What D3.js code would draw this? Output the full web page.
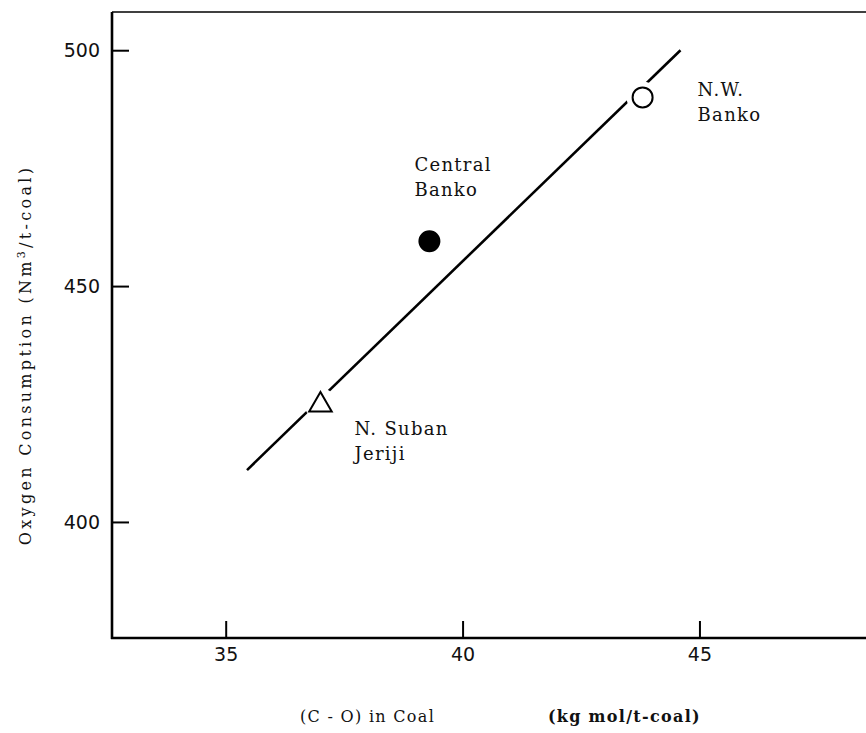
<!DOCTYPE html>
<html>
<head>
<meta charset="utf-8">
<script src="https://cdn.jsdelivr.net/npm/d3@7"></script>
<style>
  body { margin: 0; background: #fff; }
  svg { display: block; }
</style>
</head>
<body>
<script>
// coal samples
const sites      = ["N.W. Banko", "Central Banko", "N. Suban Jeriji"];
const labelLines = [["N.W.", "Banko"], ["Central", "Banko"], ["N. Suban", "Jeriji"]];
const coValues   = [43.8, 39.3, 37.0];     // (C - O) in coal, kg mol/t-coal
const o2Values   = [490, 459.5, 425];      // oxygen consumption, Nm3/t-coal
const markers    = ["open", "filled", "triangle"];

// fitted line end points
const fitX = [35.45, 44.6];
const fitY = [411, 500];

const xTicks = [35, 40, 45];
const yTicks = [400, 450, 500];

const width  = 866;
const height = 733;

const svg = d3.select("body")
    .append("svg")
    .attr("width", width)
    .attr("height", height);

const x = d3.scaleLinear().domain([32.6, 48.6]).range([112, 870]);
const y = d3.scaleLinear().domain([375.4, 508.1]).range([638, 12]);

const serif = "'DejaVu Serif', serif";
const sans  = "'DejaVu Sans', sans-serif";

// frame: left, bottom, top (right side runs off the page)
svg.append("line")
    .attr("x1", x.range()[0]).attr("x2", x.range()[0])
    .attr("y1", y.range()[1]).attr("y2", y.range()[0] + 1)
    .style("stroke", "#000").style("stroke-width", 2.6);
svg.append("line")
    .attr("x1", x.range()[0] - 1).attr("x2", width)
    .attr("y1", y.range()[0]).attr("y2", y.range()[0])
    .style("stroke", "#000").style("stroke-width", 2.6);
svg.append("line")
    .attr("x1", x.range()[0]).attr("x2", width)
    .attr("y1", y.range()[1]).attr("y2", y.range()[1])
    .style("stroke", "#000").style("stroke-width", 1.5);

// axes with inward ticks
const yAxis = svg.append("g")
    .attr("transform", `translate(${x.range()[0]},0)`)
    .call(d3.axisLeft(y).tickValues(yTicks).tickSizeInner(-17).tickSizeOuter(0).tickPadding(12));
const xAxis = svg.append("g")
    .attr("transform", `translate(0,${y.range()[0]})`)
    .call(d3.axisBottom(x).tickValues(xTicks).tickSizeInner(-17).tickSizeOuter(0).tickPadding(10));

[xAxis, yAxis].forEach(function(g) {
    g.select(".domain").remove();
    g.selectAll(".tick line").style("stroke", "#000").style("stroke-width", 2);
    g.selectAll(".tick text")
        .style("font-family", sans)
        .style("font-size", "19px")
        .style("fill", "#111");
});

// axis titles
const yTitle = svg.append("text")
    .attr("transform", "translate(31,355) rotate(-90)")
    .attr("text-anchor", "middle")
    .style("font-family", serif)
    .style("font-size", "16px")
    .style("letter-spacing", "3.3px")
    .style("fill", "#111");
yTitle.append("tspan").text("Oxygen Consumption (Nm");
yTitle.append("tspan").attr("dy", -6).style("font-size", "11px").text("3");
yTitle.append("tspan").attr("dy", 6).text("/t-coal)");

svg.append("text")
    .attr("x", 300).attr("y", 722)
    .style("font-family", serif)
    .style("font-size", "16px")
    .style("letter-spacing", "1.3px")
    .style("fill", "#111")
    .text("(C - O) in Coal");
svg.append("text")
    .attr("x", 548).attr("y", 722)
    .style("font-family", serif)
    .style("font-size", "16px")
    .style("letter-spacing", "1.3px")
    .style("font-weight", "bold")
    .style("fill", "#111")
    .text("(kg mol/t-coal)");

// fitted line
svg.append("line")
    .attr("x1", x(fitX[0])).attr("y1", y(fitY[0]))
    .attr("x2", x(fitX[1])).attr("y2", y(fitY[1]))
    .style("stroke", "#000")
    .style("stroke-width", 2.6);

const pts = sites.map(function(s, i) {
    return {name: s, lines: labelLines[i], cx: x(coValues[i]), cy: y(o2Values[i]), marker: markers[i]};
});

// white halo breaks the line around the open markers
svg.selectAll("circle.halo")
    .data(pts.filter(function(d) { return d.marker !== "filled"; }))
    .enter().append("circle")
    .attr("class", "halo")
    .attr("cx", function(d) { return d.cx; })
    .attr("cy", function(d) { return d.cy; })
    .attr("r", 16)
    .style("fill", "#fff");

const triangle = d3.symbol().type(d3.symbolTriangle).size(220);
svg.selectAll("path.marker")
    .data(pts)
    .enter().append("path")
    .attr("class", "marker")
    .attr("transform", function(d) { return `translate(${d.cx},${d.cy + (d.marker === "triangle" ? 1 : 0)})`; })
    .attr("d", function(d) {
        return d.marker === "triangle" ? triangle() : d3.symbol().type(d3.symbolCircle).size(Math.PI * 100)();
    })
    .style("fill", function(d) { return d.marker === "filled" ? "#000" : "#fff"; })
    .style("stroke", "#000")
    .style("stroke-width", 2);

// site labels, offsets from their point
const offsets = {"N.W. Banko": [55, -1], "Central Banko": [-15, -70], "N. Suban Jeriji": [34, 31]};
pts.forEach(function(d) {
    const t = svg.append("text")
        .style("font-family", serif)
        .style("font-size", "18px")
        .style("letter-spacing", "1.3px")
        .style("fill", "#111");
    d.lines.forEach(function(line, k) {
        t.append("tspan")
            .attr("x", d.cx + offsets[d.name][0])
            .attr("y", d.cy + offsets[d.name][1] + k * 25)
            .text(line);
    });
});
</script>
</body>
</html>
